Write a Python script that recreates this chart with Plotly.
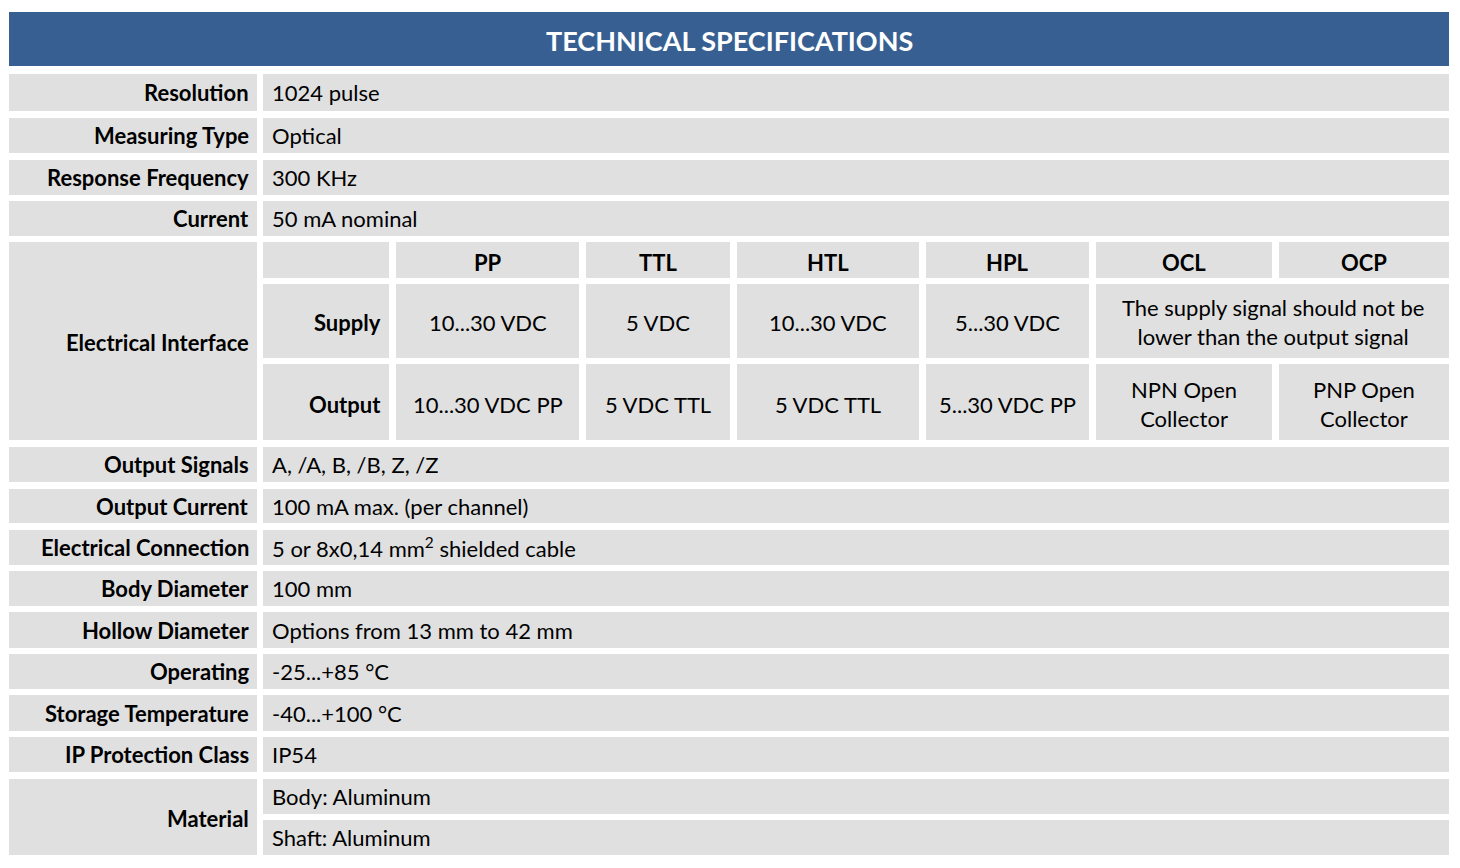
import plotly.graph_objects as go

title = "TECHNICAL SPECIFICATIONS"
top_labels = ["Resolution", "Measuring Type", "Response Frequency", "Current"]
top_values = ["1024 pulse", "Optical", "300 KHz", "50 mA nominal"]
ei_label = "Electrical Interface"
ei_cols = ["", "PP", "TTL", "HTL", "HPL", "OCL", "OCP"]
ei_supply = ["Supply", "10...30 VDC", "5 VDC", "10...30 VDC", "5...30 VDC", "The supply signal should not be<br>lower than the output signal"]
ei_output = ["Output", "10...30 VDC PP", "5 VDC TTL", "5 VDC TTL", "5...30 VDC PP", "NPN Open<br>Collector", "PNP Open<br>Collector"]
bot_labels = ["Output Signals", "Output Current", "Electrical Connection", "Body Diameter",
              "Hollow Diameter", "Operating", "Storage Temperature", "IP Protection Class"]
bot_values = ["A, /A, B, /B, Z, /Z", "100 mA max. (per channel)", "5 or 8x0,14 mm<sup>2</sup> shielded cable",
              "100 mm", "Options from 13 mm to 42 mm", "-25...+85 °C", "-40...+100 °C", "IP54"]
mat_label = "Material"
mat_values = ["Body: Aluminum", "Shaft: Aluminum"]

FONT = "Lato"
GRAY = "#e0e0e0"
BLUE = "#375f92"
fig = go.Figure()
shapes, ann = [], []

def rect(x0, y0, x1, y1, c=GRAY):
    shapes.append(dict(type="rect", x0=x0, x1=x1, y0=y0, y1=y1, fillcolor=c, line_width=0, layer="below"))

def text(x, y, t, anchor="left", bold=False, size=22, color="black"):
    ann.append(dict(x=x, y=y, text=f"<b>{t}</b>" if bold else t, showarrow=False, xanchor=anchor,
                    yanchor="middle", font=dict(family=FONT, size=size, color=color)))

LX0, LX1, VX0, VX1 = 9, 257, 263, 1449
rect(LX0, 12, VX1, 66, BLUE)
text((LX0 + VX1) / 2, 40, title, "center", True, 27, "white")

def row(y0, y1, lab, val):
    rect(LX0, y0, LX1, y1); rect(VX0, y0, VX1, y1)
    text(251, (y0 + y1) / 2, lab, "right", True)
    text(270, (y0 + y1) / 2, val)

tops = [(74, 111), (118, 153), (160, 195), (201, 236)]
for (a, b), l, v in zip(tops, top_labels, top_values):
    row(a, b, l, v)

rect(LX0, 242, LX1, 440)
text(251, 342, ei_label, "right", True)
cx = [(263, 389), (396, 579), (586, 730), (737, 919), (926, 1089), (1096, 1272), (1279, 1449)]
for (a, b), c in zip(cx, ei_cols):
    rect(a, 242, b, 278)
    if c:
        text((a + b) / 2, 262, c, "center", True)
for i, (a, b) in enumerate(cx[:5]):
    rect(a, 284, b, 358)
    if i == 0:
        text(383, 322, ei_supply[0], "right", True)
    else:
        text((a + b) / 2, 322, ei_supply[i], "center")
rect(1096, 284, 1449, 358)
text((1096 + 1449) / 2, 322, ei_supply[5], "center")
for i, (a, b) in enumerate(cx):
    rect(a, 364, b, 440)
    if i == 0:
        text(383, 404, ei_output[0], "right", True)
    else:
        text((a + b) / 2, 404, ei_output[i], "center")

bots = [(447, 482), (489, 523), (530, 565), (571, 606), (612, 648), (654, 689), (695, 731), (737, 772)]
for (a, b), l, v in zip(bots, bot_labels, bot_values):
    row(a, b, l, v)

rect(LX0, 779, LX1, 855)
text(251, 818, mat_label, "right", True)
for (a, b), v in zip([(779, 814), (820, 855)], mat_values):
    rect(VX0, a, VX1, b)
    text(270, (a + b) / 2, v)

fig.update_layout(width=1452, height=860, margin=dict(l=0, r=0, t=0, b=0),
                  plot_bgcolor="white", paper_bgcolor="white", shapes=shapes, annotations=ann,
                  xaxis=dict(range=[8, 1460], visible=False, fixedrange=True),
                  yaxis=dict(range=[868, 8], visible=False, fixedrange=True), showlegend=False)
fig.write_html("out.html")
